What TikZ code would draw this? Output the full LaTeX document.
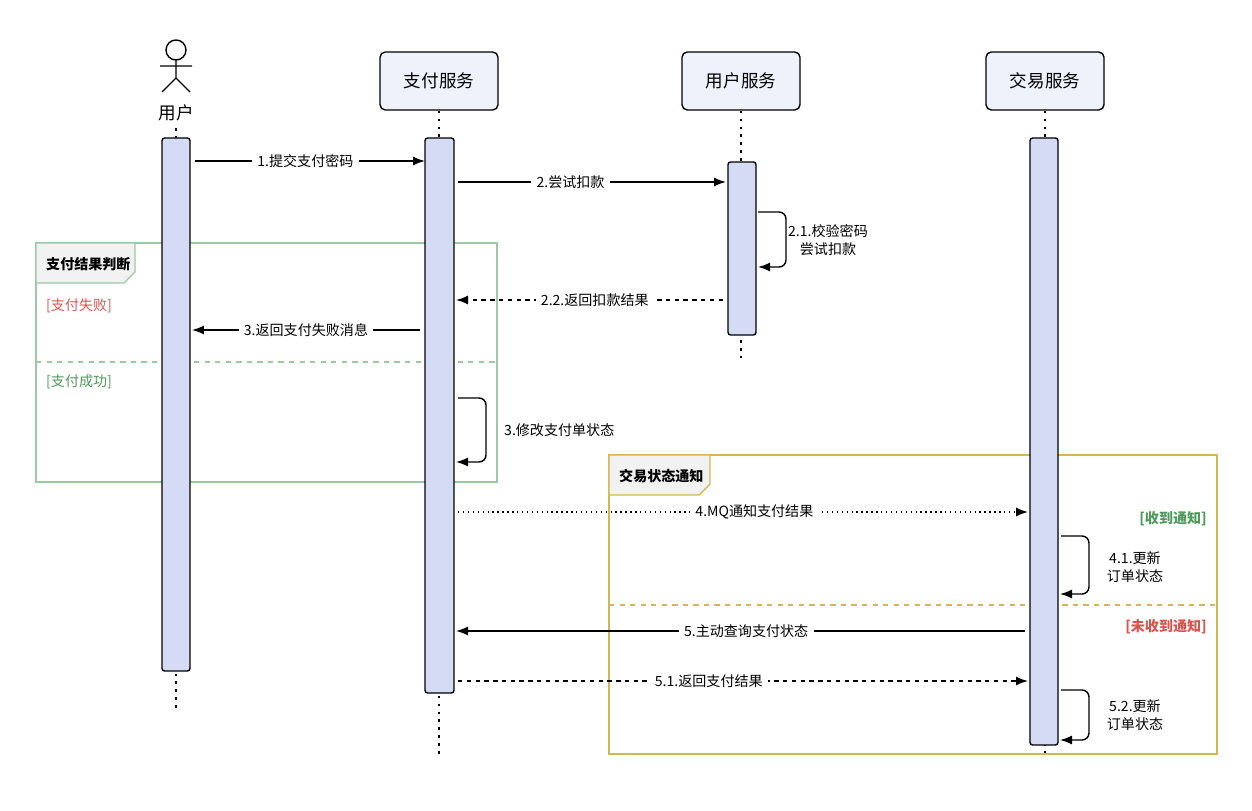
\documentclass[tikz,border=0pt]{standalone}
\usepackage{fontspec}
\setmainfont{Noto Sans CJK SC}
\usetikzlibrary{arrows.meta}
\definecolor{actfill}{HTML}{D6DBF5}
\definecolor{boxfill}{HTML}{EEF2FB}
\definecolor{okgreen}{HTML}{9CC8A2}
\definecolor{gold}{HTML}{D6B458}
\definecolor{tagfill}{HTML}{F2F2F2}
\definecolor{txtred}{HTML}{D9534F}
\definecolor{txtgreen}{HTML}{4E9A5B}
\newcommand{\lblfont}{\fontsize{8}{10}\selectfont}
\tikzset{
  svc/.style={draw, thick, rounded corners=3pt, fill=boxfill, minimum width=2.36cm, minimum height=1.16cm, font=\normalsize},
  act/.style={draw, thick, rounded corners=1.5pt, fill=actfill},
  life/.style={dash pattern=on 1.5pt off 3pt, line width=0.8pt},
  msg/.style={-{Latex[length=2.4mm]}, thick},
  ret/.style={msg, dash pattern=on 2.5pt off 2.5pt},
  mq/.style={msg, dotted},
  lbl/.style={fill=white, font=\lblfont, inner sep=3pt},
  note/.style={font=\lblfont, align=center}
}
\begin{document}
\begin{tikzpicture}[x=0.02cm, y=-0.02cm]
  \useasboundingbox (0,0) rectangle (1252,811);
  % participants
  \node[svc] (pay)  at (439,81)  {支付服务};
  \node[svc] (usv)  at (741,81)  {用户服务};
  \node[svc] (trd)  at (1045,81) {交易服务};
  % actor
  \draw[thick] (176,50) circle (10);
  \draw[thick] (176,60) -- (176,78) (160,66) -- (192,66)
               (176,78) -- (162,92) (176,78) -- (190,92);
  \node[font=\normalsize] (usr) at (176,113) {用户};
  % lifelines
  \draw[life] (176,128) -- (176,710);
  \draw[life] (pay.south) -- (439,755);
  \draw[life] (usv.south) -- (741,360);
  \draw[life] (trd.south) -- (1045,755);
  % frames
  \draw[okgreen, thick] (36,243) rectangle (497,482);
  \draw[okgreen, thick, fill=tagfill] (36,243) -- (135,243) -- (135,272) -- (124,283) -- (36,283) -- cycle;
  \node[font=\lblfont\bfseries, anchor=west] (fa) at (40,264) {支付结果判断};
  \draw[okgreen, thick, dashed] (36,362) -- (497,362);
  \node[font=\lblfont, text=txtred, anchor=west] at (40,306) {[支付失败]};
  \node[font=\lblfont, text=txtgreen, anchor=west] at (40,382) {[支付成功]};
  \draw[gold, thick] (609,455) rectangle (1217,754);
  \draw[gold, thick, fill=tagfill] (609,455) -- (710,455) -- (710,484) -- (699,495) -- (609,495) -- cycle;
  \node[font=\lblfont\bfseries, anchor=west] (fb) at (613,476) {交易状态通知};
  \draw[gold, thick, dashed] (609,605) -- (1217,605);
  \node[font=\lblfont\bfseries, text=txtgreen, anchor=east] at (1213,519) {[收到通知]};
  \node[font=\lblfont\bfseries, text=txtred, anchor=east] at (1213,627) {[未收到通知]};
  % activations
  \draw[act] (162,138) rectangle (190,671);
  \draw[act] (425,138) rectangle (454,693);
  \draw[act] (728,162) rectangle (756,335);
  \draw[act] (1030,138) rectangle (1058,745);
  % coordinates
  \coordinate (a1) at (195,161);  \coordinate (b1) at (425,161);
  \coordinate (a2) at (458,182);  \coordinate (b2) at (726,182);
  \coordinate (a3) at (723,300);  \coordinate (b3) at (456,300);
  \coordinate (a4) at (420,330);  \coordinate (b4) at (192,330);
  \coordinate (a5) at (458,512);  \coordinate (b5) at (1028,512);
  \coordinate (a6) at (1025,631); \coordinate (b6) at (456,631);
  \coordinate (a7) at (458,681);  \coordinate (b7) at (1028,681);
  % messages
  \draw[msg] (a1) -- node[lbl, pos=0.48] {1.提交支付密码} (b1);
  \draw[msg] (a2) -- node[lbl, pos=0.42] {2.尝试扣款} (b2);
  \draw[ret] (a3) -- node[lbl, pos=0.48] {2.2.返回扣款结果} (b3);
  \draw[msg] (a4) -- node[lbl, pos=0.5] {3.返回支付失败消息} (b4);
  \draw[mq]  (a5) -- node[lbl, pos=0.52] {4.MQ通知支付结果} (b5);
  \draw[msg] (a6) -- node[lbl, pos=0.49] {5.主动查询支付状态} (b6);
  \draw[ret] (a7) -- node[lbl, pos=0.44] {5.1.返回支付结果} (b7);
  % self calls
  \draw[msg, rounded corners=4pt] (758,212) -- (786,212) -- (786,267) -- (758,267);
  \node[note] at (828,240) {2.1.校验密码\\尝试扣款};
  \draw[msg, rounded corners=4pt] (458,398) -- (486,398) -- (486,462) -- (456,462);
  \node[note, anchor=west] at (498,430) {3.修改支付单状态};
  \draw[msg, rounded corners=4pt] (1061,536) -- (1089,536) -- (1089,594) -- (1060,594);
  \node[note] at (1135,567) {4.1.更新\\订单状态};
  \draw[msg, rounded corners=4pt] (1061,690) -- (1089,690) -- (1089,740) -- (1060,740);
  \node[note] at (1135,715) {5.2.更新\\订单状态};
\end{tikzpicture}
\end{document}
